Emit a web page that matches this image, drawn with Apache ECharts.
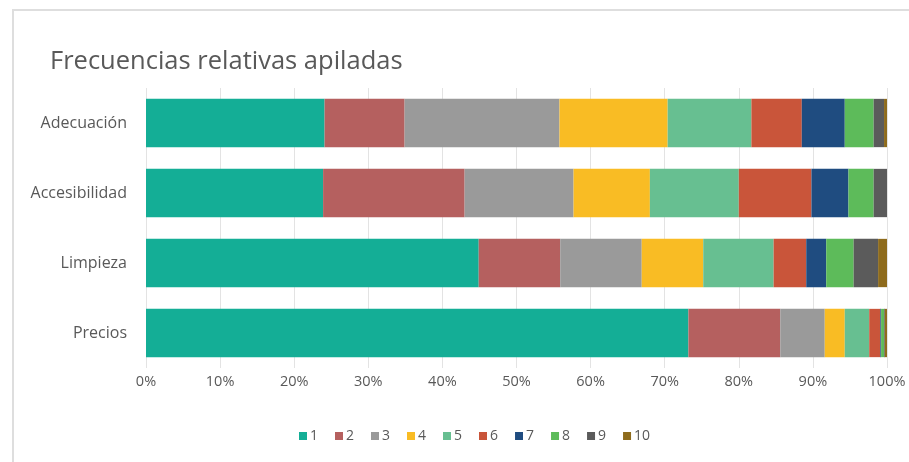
<!DOCTYPE html>
<html>
<head>
<meta charset="utf-8">
<script src="https://cdn.jsdelivr.net/npm/echarts@6/dist/echarts.min.js"></script>
<style>
	html, body { margin: 0; padding: 0; background: #ffffff; }
	#container { width: 909px; height: 462px; }
</style>
</head>
<body>
<div id="container"></div>
<script>
// categorias (de arriba a abajo)
var categories = ['Adecuación', 'Accesibilidad', 'Limpieza', 'Precios'];
// nombres de las series
var seriesNames = ['1', '2', '3', '4', '5', '6', '7', '8', '9', '10'];
// frecuencias relativas (%) por categoria, una lista por serie
var s1 = [24.1, 23.9, 44.9, 73.2];
var s2 = [10.8, 19.1, 11.0, 12.4];
var s3 = [20.9, 14.7, 11.0, 6.0];
var s4 = [14.6, 10.3, 8.3, 2.7];
var s5 = [11.3, 12.0, 9.5, 3.3];
var s6 = [6.8, 9.8, 4.4, 1.5];
var s7 = [5.8, 5.0, 2.7, 0.1];
var s8 = [3.9, 3.4, 3.7, 0.4];
var s9 = [1.4, 1.8, 3.3, 0.1];
var s10 = [0.4, 0.0, 1.2, 0.3];
var xTicks = [0, 10, 20, 30, 40, 50, 60, 70, 80, 90, 100];

var colors = ['#14ae96', '#b5605f', '#9a9a9a', '#f9bc24', '#67bf91',
		'#c9553a', '#1f4c80', '#5dbb5a', '#5b5b5b', '#8e6b1c'];

var dom = document.getElementById("container");
var myChart = echarts.init(dom, null, { renderer : 'canvas' });

var allData = [ s1, s2, s3, s4, s5, s6, s7, s8, s9, s10 ];
var series = [];
for (var i = 0; i < seriesNames.length; i++) {
	series.push({
		name : seriesNames[i],
		type : 'bar',
		stack : 'total',
		barWidth : '69%',
		itemStyle : { color : colors[i] },
		data : allData[i]
	});
}

var option = {
	animation : false,
	color : colors,
	textStyle : { fontFamily : 'Open Sans' },
	title : {
		text : 'Frecuencias relativas apiladas',
		left : 45,
		top : 44,
		textStyle : {
			fontFamily : 'Open Sans',
			fontSize : 25.5,
			fontWeight : 'normal',
			color : '#595959'
		}
	},
	// marco gris claro
	graphic : [ {
		type : 'rect',
		shape : { x : 13, y : 10, width : 910, height : 470 },
		style : { fill : 'none', stroke : '#dedede', lineWidth : 2 },
		silent : true
	} ],
	legend : {
		bottom : 14,
		left : 294,
		itemWidth : 8,
		itemHeight : 8,
		itemGap : 17,
		icon : 'rect',
		textStyle : { fontSize : 14, color : '#595959', padding : [ 0, 0, 0, -2 ] },
		data : seriesNames
	},
	grid : {
		left : 146,
		right : 22,
		top : 88,
		bottom : 94
	},
	xAxis : {
		type : 'value',
		min : 0,
		max : 100,
		interval : 10,
		axisLine : { show : false },
		axisTick : { show : false },
		axisLabel : {
			color : '#595959',
			fontSize : 14.5,
			margin : 6,
			formatter : function(v) {
				return xTicks.indexOf(v) > -1 ? v + '%' : '';
			}
		},
		splitLine : { lineStyle : { color : '#e3e3e3' } }
	},
	yAxis : {
		type : 'category',
		inverse : true,
		data : categories,
		axisLine : { show : false },
		axisTick : { show : false },
		axisLabel : { color : '#595959', fontSize : 16, margin : 19 }
	},
	series : series
};

myChart.setOption(option, true);
</script>
</body>
</html>
